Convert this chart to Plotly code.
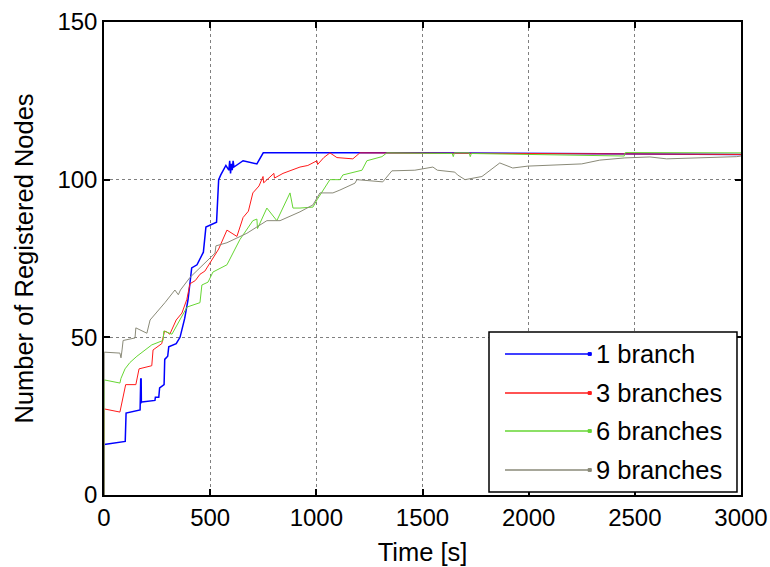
import plotly.graph_objects as go

# Registration progress of nodes over time for different numbers of branches
blue_t = [0, 1, 100, 104, 170, 171, 172, 173, 174, 175, 176, 178, 240, 242, 258, 262, 283, 286,
          300, 305, 340, 358, 380, 396, 413, 438, 468, 480, 530, 540, 550, 574, 588, 592, 596,
          600, 604, 608, 612, 655, 720, 750, 1500, 3000]
blue_v = [0, 16, 17, 26, 27, 37, 29, 37, 29, 37, 29.5, 29.5, 30, 31, 31, 34, 35, 43,
          44, 47, 48, 50, 56, 62, 72, 73, 77, 85, 86.5, 100, 101.5, 104.5, 103, 106, 102,
          105, 103, 106, 104, 106, 105, 108.5, 108.5, 108]

red_t = [0, 1, 75, 80, 99, 102, 150, 165, 225, 231, 272, 285, 296, 310, 340, 367, 390, 405,
         430, 452, 475, 499, 540, 579, 600, 626, 655, 680, 701, 730, 749, 752, 800, 803, 843,
         880, 923, 960, 1003, 1006, 1035, 1064, 1097, 1172, 1205, 2000, 3000]
red_v = [0, 27.3, 26.3, 28, 34, 35, 35, 40, 41, 46, 48, 52, 51.7, 51, 55.5, 57.7, 62, 67,
         68, 70, 71, 73.6, 78, 84, 83, 82, 88, 90, 95.8, 98, 101, 99, 102, 100.5, 102,
         103, 104, 104.5, 106, 104.8, 107, 108.5, 107, 106.6, 108.5, 108.3, 108]

green_t = [0, 1, 75, 80, 99, 122, 155, 225, 278, 282, 320, 358, 391, 452, 461, 490, 513, 579,
           607, 640, 701, 720, 723, 767, 814, 876, 890, 923, 984, 1003, 1064, 1111, 1125,
           1158, 1215, 1238, 1309, 1332, 1640, 1645, 1650, 1720, 1725, 1730, 2000, 2450,
           2455, 3000]
green_v = [0, 36.5, 35.5, 37, 40, 42, 44, 47.6, 49, 52, 51, 55.5, 59.6, 61, 66.6, 67.5, 70.7, 73,
           76.7, 81, 87, 87.5, 84.5, 91, 87, 95.8, 91, 91, 91.3, 93.6, 100, 100, 101.5,
           102, 103, 106, 107.3, 108.5, 108.3, 107.3, 108.5, 108.5, 107.3, 108.3, 108, 107.5,
           108.6, 108.5]

gray_t = [0, 1, 75, 80, 85, 90, 146, 150, 202, 217, 287, 334, 350, 360, 405, 452, 523, 527,
          579, 626, 673, 767, 829, 923, 984, 1017, 1020, 1078, 1111, 1158, 1182, 1191, 1313,
          1356, 1464, 1549, 1570, 1652, 1665, 1700, 1780, 1864, 1925, 1996, 2250, 2335, 2453,
          2571, 2650, 2980, 3000]
gray_v = [0, 45.3, 45, 43.5, 46, 49, 49.8, 53, 51.3, 55.5, 61, 65, 63.5, 65, 69, 72, 76.7, 79,
          80, 81.5, 83, 87, 87, 89.8, 92, 95.8, 95.8, 95.8, 96.7, 98.3, 98.9, 100, 99.3,
          102.8, 103, 104, 103, 102.4, 101.5, 100, 101, 105.3, 103.7, 104.3, 105, 106.2, 106.9,
          107.2, 106.6, 107.3, 107.5]

series_names = ["1 branch", "3 branches", "6 branches", "9 branches"]
series_t = [blue_t, red_t, green_t, gray_t]
series_v = [blue_v, red_v, green_v, gray_v]
colors = ["#0000FF", "#FF1A1A", "#66D633", "#8A8A78"]
widths = [1.5, 1, 1, 1]

x_ticks = [0, 500, 1000, 1500, 2000, 2500, 3000]
y_ticks = [0, 50, 100, 150]

FONT = "Liberation Sans, Arial, sans-serif"
TICK_SIZE = 24
LABEL_SIZE = 25.5

fig = go.Figure()
for name, t, v, c, w in zip(series_names, series_t, series_v, colors, widths):
    fig.add_trace(go.Scatter(x=t, y=v, mode="lines", name=name,
                             line=dict(color=c, width=w), showlegend=False))

axis_common = dict(
    ticks="inside", ticklen=6, tickcolor="black", tickwidth=1.5,
    mirror="allticks", showline=True, linecolor="black", linewidth=1.5,
    showgrid=True, gridcolor="#808080", griddash="dot", gridwidth=1,
    zeroline=False, automargin=False,
    tickfont=dict(size=TICK_SIZE, family=FONT, color="black"),
)

fig.update_xaxes(range=[0, 3000], tickvals=x_ticks,
                 title=dict(text="Time [s]", font=dict(size=LABEL_SIZE, family=FONT),
                            standoff=14),
                 **axis_common)
fig.update_yaxes(range=[0, 150], tickvals=y_ticks,
                 title=dict(text="Number of Registered Nodes",
                            font=dict(size=LABEL_SIZE, family=FONT), standoff=16),
                 **axis_common)

# Legend box drawn in paper coordinates
box_x0, box_x1, box_y0, box_y1 = 0.6044, 0.9937, 0.0063, 0.3446
fig.add_shape(type="rect", xref="paper", yref="paper", x0=box_x0, x1=box_x1,
              y0=box_y0, y1=box_y1, line=dict(color="black", width=1.5),
              fillcolor="white", layer="above")
entry_y = [0.2981, 0.2156, 0.1353, 0.0529]
for name, c, yy in zip(series_names, colors, entry_y):
    fig.add_shape(type="line", xref="paper", yref="paper", x0=0.6295, x1=0.7630,
                  y0=yy, y1=yy, line=dict(color=c, width=1.5), layer="above")
    fig.add_shape(type="rect", xref="paper", yref="paper", x0=0.7600, x1=0.7650,
                  y0=yy - 0.003, y1=yy + 0.003, line=dict(color=c, width=1),
                  fillcolor=c, layer="above")
    fig.add_annotation(x=0.7700, y=yy, xref="paper", yref="paper", text=name,
                       showarrow=False, xanchor="left", yanchor="middle",
                       font=dict(size=LABEL_SIZE, family=FONT, color="black"))

fig.update_layout(
    width=770, height=567,
    margin=dict(l=104, r=29, t=22, b=72),
    plot_bgcolor="white", paper_bgcolor="white",
    font=dict(family=FONT, size=TICK_SIZE, color="black"),
    showlegend=False,
)

fig.write_html("out.html")
